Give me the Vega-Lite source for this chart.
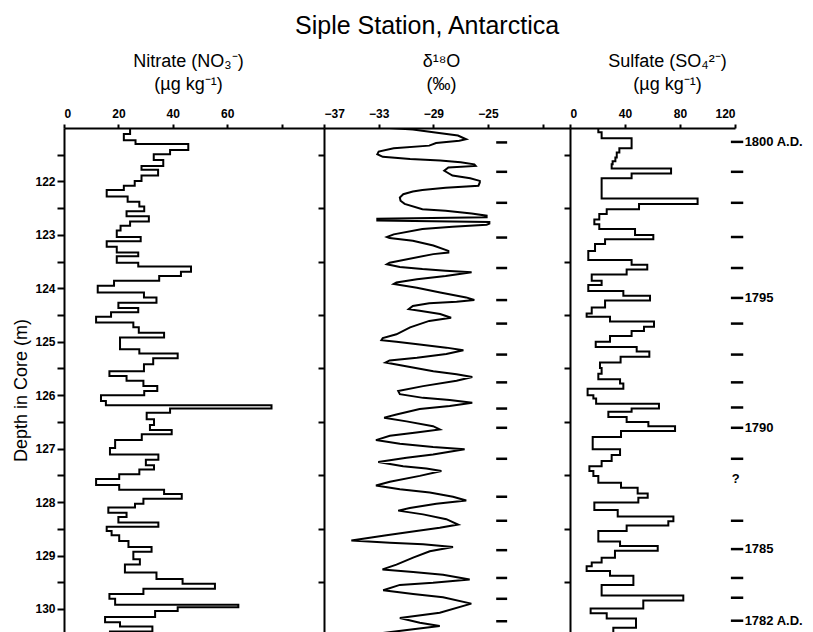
{
  "$schema": "https://vega.github.io/schema/vega-lite/v6.json",
  "padding": {"left": 12, "top": 14, "right": 5, "bottom": 0},
  "background": "white",
  "title": {"text": "Siple Station, Antarctica", "fontSize": 25, "font": "Liberation Sans", "fontWeight": "normal", "color": "black", "offset": 13, "anchor": "middle", "dx": 19},
  "spacing": 0,
  "bounds": "flush",
  "config": {
    "view": {"stroke": null},
    "font": "Liberation Sans",
    "axis": {"domainColor": "black", "domainWidth": 2, "tickColor": "black", "tickWidth": 2, "labelColor": "black", "labelFont": "Liberation Sans", "labelFontWeight": "bold", "labelFontSize": 12, "titleColor": "black", "titleFont": "Liberation Sans", "titleFontWeight": "normal", "titleFontSize": 18, "grid": false}
  },
  "datasets": {
    "nitrate": [
      {"d":121.0,"v":24.3},{"d":121.11,"v":22},{"d":121.23,"v":26.3},{"d":121.30,"v":45.7},{"d":121.41,"v":39},{"d":121.49,"v":33},{"d":121.60,"v":36.5},{"d":121.71,"v":28.5},{"d":121.78,"v":34.6},{"d":121.89,"v":28.5},{"d":121.99,"v":26},{"d":122.08,"v":22},{"d":122.16,"v":15.7},{"d":122.28,"v":23.4},{"d":122.38,"v":27.7},{"d":122.47,"v":29.5},{"d":122.56,"v":23},{"d":122.65,"v":31.2},{"d":122.75,"v":24.3},{"d":122.83,"v":20.8},{"d":122.92,"v":19.4},{"d":123.04,"v":28.2},{"d":123.12,"v":15.7},{"d":123.22,"v":19.4},{"d":123.33,"v":27.3},{"d":123.40,"v":19.4},{"d":123.52,"v":27.3},{"d":123.59,"v":46.7},{"d":123.69,"v":43},{"d":123.77,"v":35},{"d":123.86,"v":18.4},{"d":123.95,"v":12.4},{"d":124.08,"v":29.4},{"d":124.17,"v":34},{"d":124.27,"v":20},{"d":124.37,"v":27.3},{"d":124.45,"v":17.3},{"d":124.53,"v":11.8},{"d":124.64,"v":25.5},{"d":124.73,"v":27.5},{"d":124.83,"v":36.8},{"d":124.92,"v":20.6},{"d":125.14,"v":27.7},{"d":125.22,"v":41.8},{"d":125.31,"v":32.8},{"d":125.42,"v":29.4},{"d":125.55,"v":16.7},{"d":125.64,"v":23},{"d":125.73,"v":29.2},{"d":125.83,"v":34.3},{"d":125.92,"v":29.5},{"d":126.00,"v":13.6},{"d":126.11,"v":15.4},{"d":126.19,"v":76.3},{"d":126.25,"v":39},{"d":126.33,"v":30.4},{"d":126.45,"v":33.1},{"d":126.56,"v":31.6},{"d":126.65,"v":39.6},{"d":126.73,"v":28.6},{"d":126.84,"v":18.8},{"d":126.99,"v":16.9},{"d":127.11,"v":34.7},{"d":127.21,"v":30.1},{"d":127.31,"v":33.1},{"d":127.39,"v":27.7},{"d":127.48,"v":20.3},{"d":127.57,"v":11.8},{"d":127.68,"v":20.3},{"d":127.77,"v":36.8},{"d":127.85,"v":43.3},{"d":127.94,"v":29.2},{"d":128.03,"v":26.1},{"d":128.10,"v":16.3},{"d":128.20,"v":23},{"d":128.28,"v":20},{"d":128.38,"v":34.7},{"d":128.46,"v":15.7},{"d":128.54,"v":17.5},{"d":128.62,"v":20.3},{"d":128.73,"v":23.7},{"d":128.84,"v":32.2},{"d":128.93,"v":25.5},{"d":129.07,"v":27.9},{"d":129.17,"v":22.4},{"d":129.32,"v":34},{"d":129.44,"v":43.6},{"d":129.53,"v":55.5},{"d":129.62,"v":29.2},{"d":129.72,"v":16.7},{"d":129.81,"v":18.8},{"d":129.92,"v":64.1},{"d":129.97,"v":41.8},{"d":130.04,"v":33.5},{"d":130.15,"v":15.1},{"d":130.25,"v":20.6},{"d":130.33,"v":32.5},{"d":130.42,"v":16.9},{"d":130.5,"v":16.9}
    ],
    "d18o": [
      {"d":121.0,"v":-32.2},{"d":121.03,"v":-30.5},{"d":121.08,"v":-29.0},{"d":121.14,"v":-27.2},{"d":121.21,"v":-26.6},{"d":121.24,"v":-27.1},{"d":121.28,"v":-28.8},{"d":121.33,"v":-29.3},{"d":121.38,"v":-31.9},{"d":121.44,"v":-33.0},{"d":121.49,"v":-33.1},{"d":121.54,"v":-32.7},{"d":121.58,"v":-30.7},{"d":121.61,"v":-28.5},{"d":121.64,"v":-27.0},{"d":121.68,"v":-26.0},{"d":121.71,"v":-25.9},{"d":121.74,"v":-27.9},{"d":121.80,"v":-28.2},{"d":121.89,"v":-27.6},{"d":121.94,"v":-26.3},{"d":121.99,"v":-25.6},{"d":122.02,"v":-25.6},{"d":122.08,"v":-25.7},{"d":122.12,"v":-28.1},{"d":122.16,"v":-29.8},{"d":122.19,"v":-30.5},{"d":122.24,"v":-31.2},{"d":122.30,"v":-31.45},{"d":122.36,"v":-31.4},{"d":122.42,"v":-31.1},{"d":122.52,"v":-29.8},{"d":122.55,"v":-28.1},{"d":122.60,"v":-26.2},{"d":122.64,"v":-25.1},{"d":122.67,"v":-25.1},{"d":122.70,"v":-33.1},{"d":122.73,"v":-33.1},{"d":122.76,"v":-24.9},{"d":122.79,"v":-24.9},{"d":122.81,"v":-25.1},{"d":122.85,"v":-27.6},{"d":122.89,"v":-29.8},{"d":122.99,"v":-31.9},{"d":123.04,"v":-32.4},{"d":123.06,"v":-32.2},{"d":123.11,"v":-30.5},{"d":123.20,"v":-29.0},{"d":123.30,"v":-27.9},{"d":123.33,"v":-27.9},{"d":123.36,"v":-29.0},{"d":123.52,"v":-32.2},{"d":123.55,"v":-32.4},{"d":123.60,"v":-31.45},{"d":123.64,"v":-29.8},{"d":123.67,"v":-28.1},{"d":123.70,"v":-26.2},{"d":123.77,"v":-28.1},{"d":123.83,"v":-30.2},{"d":123.89,"v":-31.7},{"d":123.92,"v":-31.9},{"d":123.99,"v":-30.2},{"d":124.08,"v":-28.5},{"d":124.17,"v":-26.6},{"d":124.22,"v":-26.0},{"d":124.25,"v":-27.3},{"d":124.28,"v":-29.3},{"d":124.33,"v":-30.5},{"d":124.39,"v":-30.8},{"d":124.42,"v":-30.0},{"d":124.48,"v":-28.5},{"d":124.55,"v":-27.7},{"d":124.61,"v":-29.3},{"d":124.73,"v":-30.7},{"d":124.86,"v":-31.7},{"d":124.93,"v":-32.7},{"d":124.97,"v":-32.8},{"d":125.00,"v":-31.7},{"d":125.05,"v":-30.0},{"d":125.11,"v":-28.05},{"d":125.16,"v":-26.8},{"d":125.23,"v":-28.05},{"d":125.30,"v":-30.2},{"d":125.35,"v":-32.2},{"d":125.39,"v":-32.5},{"d":125.45,"v":-31.2},{"d":125.55,"v":-29.0},{"d":125.61,"v":-27.3},{"d":125.66,"v":-26.15},{"d":125.73,"v":-27.3},{"d":125.83,"v":-29.75},{"d":125.92,"v":-31.57},{"d":125.98,"v":-31.45},{"d":126.05,"v":-29.75},{"d":126.09,"v":-27.8},{"d":126.14,"v":-26.15},{"d":126.20,"v":-27.8},{"d":126.26,"v":-30.0},{"d":126.36,"v":-31.7},{"d":126.42,"v":-32.6},{"d":126.49,"v":-30.96},{"d":126.58,"v":-29.02},{"d":126.64,"v":-28.53},{"d":126.70,"v":-30.24},{"d":126.76,"v":-32.18},{"d":126.84,"v":-33.2},{"d":126.91,"v":-31.45},{"d":126.97,"v":-29.02},{"d":127.01,"v":-26.71},{"d":127.11,"v":-29.02},{"d":127.17,"v":-30.96},{"d":127.25,"v":-33.03},{"d":127.33,"v":-31.21},{"d":127.37,"v":-29.51},{"d":127.42,"v":-28.41},{"d":127.51,"v":-29.99},{"d":127.62,"v":-32.18},{"d":127.69,"v":-33.2},{"d":127.76,"v":-31.45},{"d":127.82,"v":-29.26},{"d":127.90,"v":-27.56},{"d":127.97,"v":-26.59},{"d":128.03,"v":-28.78},{"d":128.11,"v":-30.72},{"d":128.16,"v":-31.57},{"d":128.23,"v":-29.75},{"d":128.32,"v":-28.05},{"d":128.42,"v":-27.19},{"d":128.48,"v":-28.53},{"d":128.54,"v":-30.24},{"d":128.62,"v":-32.43},{"d":128.72,"v":-35.0},{"d":128.76,"v":-32.18},{"d":128.79,"v":-29.75},{"d":128.84,"v":-27.56},{"d":128.92,"v":-29.26},{"d":129.04,"v":-30.48},{"d":129.17,"v":-31.7},{"d":129.26,"v":-32.72},{"d":129.31,"v":-30.48},{"d":129.36,"v":-28.29},{"d":129.45,"v":-26.34},{"d":129.51,"v":-29.02},{"d":129.55,"v":-31.45},{"d":129.65,"v":-32.67},{"d":129.72,"v":-30.48},{"d":129.78,"v":-28.29},{"d":129.90,"v":-26.22},{"d":130.07,"v":-28.53},{"d":130.17,"v":-31.45},{"d":130.26,"v":-29.99},{"d":130.32,"v":-28.53},{"d":130.38,"v":-30.48},{"d":130.45,"v":-32.67},{"d":130.5,"v":-32.9}
    ],
    "sulfate": [
      {"d":121.0,"v":20.6},{"d":121.08,"v":23},{"d":121.19,"v":44.8},{"d":121.38,"v":35.9},{"d":121.46,"v":34},{"d":121.55,"v":33},{"d":121.62,"v":31},{"d":121.68,"v":30.3},{"d":121.76,"v":73.5},{"d":121.85,"v":44.8},{"d":121.94,"v":23},{"d":122.32,"v":92.8},{"d":122.42,"v":50.2},{"d":122.52,"v":26.7},{"d":122.61,"v":21.3},{"d":122.71,"v":17.7},{"d":122.80,"v":21.3},{"d":122.89,"v":47.3},{"d":123.00,"v":60.6},{"d":123.08,"v":25.5},{"d":123.17,"v":18.2},{"d":123.30,"v":13.3},{"d":123.47,"v":44.8},{"d":123.56,"v":56.2},{"d":123.65,"v":41.2},{"d":123.74,"v":15.8},{"d":123.86,"v":23},{"d":123.94,"v":13.3},{"d":124.05,"v":38.8},{"d":124.14,"v":58.2},{"d":124.23,"v":25.5},{"d":124.36,"v":15.8},{"d":124.47,"v":12.1},{"d":124.53,"v":29.1},{"d":124.62,"v":61.1},{"d":124.72,"v":53.8},{"d":124.80,"v":44.8},{"d":124.89,"v":29.1},{"d":125.00,"v":18.7},{"d":125.10,"v":48.5},{"d":125.18,"v":57.7},{"d":125.28,"v":36.8},{"d":125.39,"v":21.8},{"d":125.49,"v":23},{"d":125.60,"v":20.6},{"d":125.70,"v":36.4},{"d":125.78,"v":38.8},{"d":125.88,"v":12.8},{"d":126.00,"v":17},{"d":126.06,"v":19},{"d":126.16,"v":64.7},{"d":126.25,"v":44.8},{"d":126.31,"v":27.9},{"d":126.41,"v":41.2},{"d":126.50,"v":57},{"d":126.58,"v":76.4},{"d":126.67,"v":37.1},{"d":126.78,"v":16.5},{"d":127.01,"v":36.4},{"d":127.12,"v":30.3},{"d":127.23,"v":23},{"d":127.33,"v":14.1},{"d":127.42,"v":17},{"d":127.51,"v":20.6},{"d":127.64,"v":37.1},{"d":127.73,"v":49.2},{"d":127.84,"v":56.5},{"d":127.92,"v":49.7},{"d":128.01,"v":17.7},{"d":128.15,"v":34.7},{"d":128.27,"v":75.2},{"d":128.36,"v":71.5},{"d":128.44,"v":41.2},{"d":128.54,"v":20.6},{"d":128.74,"v":36.4},{"d":128.82,"v":63.8},{"d":128.91,"v":32.7},{"d":129.04,"v":23},{"d":129.13,"v":15.8},{"d":129.20,"v":12.1},{"d":129.29,"v":29.1},{"d":129.38,"v":46.1},{"d":129.55,"v":23},{"d":129.75,"v":82.4},{"d":129.84,"v":53.3},{"d":129.99,"v":15},{"d":130.08,"v":26.7},{"d":130.18,"v":48},{"d":130.35,"v":31.5},{"d":130.5,"v":31.5}
    ],
    "markers": [
      {"d":121.27},{"d":121.82},{"d":122.40},{"d":123.05},{"d":123.62},{"d":124.22},{"d":124.66},{"d":125.24},{"d":125.76},{"d":126.25},{"d":126.61},{"d":127.19},{"d":127.90},{"d":128.35},{"d":128.90},{"d":129.42},{"d":129.81},{"d":130.23}
    ],
    "years": [
      {"d":121.26,"label":"1800 A.D."},{"d":121.82,"label":""},{"d":122.40,"label":""},{"d":123.04,"label":""},{"d":123.62,"label":""},{"d":124.18,"label":"1795"},{"d":124.66,"label":""},{"d":125.24,"label":""},{"d":125.76,"label":""},{"d":126.23,"label":""},{"d":126.61,"label":"1790"},{"d":127.19,"label":""},{"d":128.35,"label":""},{"d":128.88,"label":"1785"},{"d":129.42,"label":""},{"d":129.79,"label":""},{"d":130.22,"label":"1782 A.D."}
    ],
    "uncertain": [
      {"d":127.57,"label":"?"}
    ]
  },
  "hconcat": [
    {
      "width": 260,
      "height": 505,
      "layer": [
        {
          "data": {"name": "nitrate"},
          "mark": {"type": "line", "interpolate": "step-before", "color": "black", "strokeWidth": 2, "clip": true},
          "encoding": {
            "x": {"field": "v", "type": "quantitative", "scale": {"domain": [0, 95.6], "nice": false, "zero": false},
              "axis": {"orient": "top", "values": [0, 20, 40, 60, 80], "labelExpr": "datum.value == 80 ? '' : datum.label", "tickSize": 4, "labelPadding": 4, "title": ["Nitrate (NO₃⁻)", "(µg kg⁻¹)"], "titleLineHeight": 23, "titlePadding": 14, "titleX": 124}},
            "y": {"field": "d", "type": "quantitative", "scale": {"domain": [121, 130.45], "reverse": true, "nice": false, "zero": false},
              "axis": {"values": [121.5, 122, 122.5, 123, 123.5, 124, 124.5, 125, 125.5, 126, 126.5, 127, 127.5, 128, 128.5, 129, 129.5, 130], "labelExpr": "datum.value % 1 == 0 ? format(datum.value, 'd') : ''", "tickSize": 7, "labelPadding": 2, "title": "Depth in Core (m)", "titleFontSize": 18, "titlePadding": 4, "titleY": 262}},
            "order": {"field": "d", "type": "quantitative"}
          }
        }
      ]
    },
    {
      "width": 246,
      "height": 505,
      "layer": [
        {
          "data": {"name": "d18o"},
          "mark": {"type": "line", "interpolate": "linear", "color": "black", "strokeWidth": 2, "clip": true},
          "encoding": {
            "x": {"field": "v", "type": "quantitative", "scale": {"domain": [-37, -19], "nice": false, "zero": false},
              "axis": {"orient": "top", "values": [-37, -33, -29, -25, -21], "labelExpr": "datum.value == -21 ? '' : datum.label", "tickSize": 4, "labelPadding": 4, "title": ["δ¹⁸O", "(‰)"], "titleLineHeight": 23, "titlePadding": 14, "titleX": 117}},
            "y": {"field": "d", "type": "quantitative", "scale": {"domain": [121, 130.45], "reverse": true, "nice": false, "zero": false},
              "axis": {"values": [121.5, 122, 122.5, 123, 123.5, 124, 124.5, 125, 125.5, 126, 126.5, 127, 127.5, 128, 128.5, 129, 129.5, 130], "labels": false, "tickSize": 6, "title": null}},
            "order": {"field": "d", "type": "quantitative"}
          }
        },
        {
          "data": {"name": "markers"},
          "mark": {"type": "rule", "color": "black", "strokeWidth": 2.5},
          "encoding": {
            "x": {"datum": -24.4, "type": "quantitative"},
            "x2": {"datum": -23.6},
            "y": {"field": "d", "type": "quantitative"}
          }
        }
      ]
    },
    {
      "width": 165,
      "height": 505,
      "layer": [
        {
          "data": {"name": "sulfate"},
          "mark": {"type": "line", "interpolate": "step-before", "color": "black", "strokeWidth": 2, "clip": true},
          "encoding": {
            "x": {"field": "v", "type": "quantitative", "scale": {"domain": [0, 120], "nice": false, "zero": false},
              "axis": {"orient": "top", "values": [0, 40, 80, 120], "tickSize": 4, "labelPadding": 4, "title": ["Sulfate (SO₄²⁻)", "(µg kg⁻¹)"], "titleLineHeight": 23, "titlePadding": 14, "titleX": 97}},
            "y": {"field": "d", "type": "quantitative", "scale": {"domain": [121, 130.45], "reverse": true, "nice": false, "zero": false},
              "axis": {"values": [121.5, 122, 122.5, 123, 123.5, 124, 124.5, 125, 125.5, 126, 126.5, 127, 127.5, 128, 128.5, 129, 129.5, 130], "labels": false, "tickSize": 6, "title": null}},
            "order": {"field": "d", "type": "quantitative"}
          }
        },
        {
          "data": {"name": "years"},
          "mark": {"type": "rule", "color": "black", "strokeWidth": 2.5},
          "encoding": {
            "x": {"datum": 117, "type": "quantitative"},
            "x2": {"datum": 126},
            "y": {"field": "d", "type": "quantitative"}
          }
        },
        {
          "data": {"name": "years"},
          "mark": {"type": "text", "align": "left", "baseline": "middle", "font": "Liberation Sans", "fontWeight": "bold", "fontSize": 13, "color": "black"},
          "encoding": {
            "x": {"datum": 127, "type": "quantitative"},
            "y": {"field": "d", "type": "quantitative"},
            "text": {"field": "label"}
          }
        },
        {
          "data": {"name": "uncertain"},
          "mark": {"type": "text", "align": "center", "baseline": "middle", "font": "Liberation Sans", "fontWeight": "bold", "fontSize": 13, "color": "black"},
          "encoding": {
            "x": {"datum": 120.5, "type": "quantitative"},
            "y": {"field": "d", "type": "quantitative"},
            "text": {"field": "label"}
          }
        }
      ]
    }
  ]
}
